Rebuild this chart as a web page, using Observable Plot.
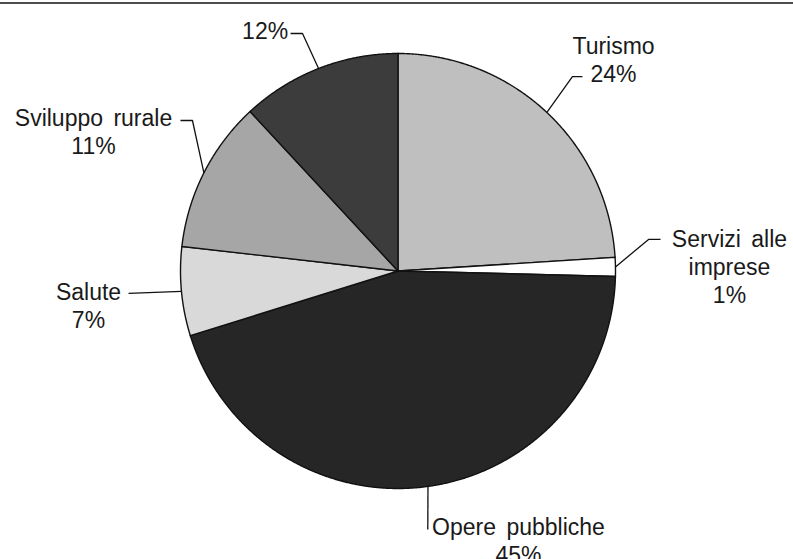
<!DOCTYPE html>
<html>
<head>
<meta charset="utf-8">
<script src="https://cdn.jsdelivr.net/npm/d3@7"></script>
<script src="https://cdn.jsdelivr.net/npm/@observablehq/plot@0.6"></script>
<style>
  html, body { margin: 0; padding: 0; background: #fff; }
  #wrap { position: relative; width: 793px; height: 559px; overflow: hidden; }
  #topline { position: absolute; left: 0; top: 2px; width: 793px; height: 2px; background: #4d4d4d; }
</style>
</head>
<body>
<div id="wrap"><div id="topline"></div></div>
<script>
// ---- data ----
const categories = ["Turismo", "Servizi alle\nimprese", "Opere pubbliche", "Salute", "Sviluppo rurale", ""];
const shares = [24.0, 1.4, 44.8, 6.6, 11.3, 11.9];   // slice sizes, %
const percentLabels = ["24%", "1%", "45%", "7%", "11%", "12%"];
const fills = ["#bfbfbf", "#ffffff", "#262626", "#d9d9d9", "#a6a6a6", "#3c3c3c"];

// ---- label layout (radius units, relative to the pie centre) ----
const labelAt = [[0.991, 1.089], [1.524, 0.200], [0.554, -1.123], [-1.423, -0.042], [-1.400, 0.759], [-0.611, 1.158]];
const leaderElbow = [[0.802, 0.894], [1.152, 0.145], [0.137, -1.189], [-1.239, -0.103], [-0.945, 0.692], [-0.439, 1.092]];
const leaderEnd = [[0.848, 0.894], [1.207, 0.145], [0.137, -1.189], [-1.239, -0.103], [-1.000, 0.692], [-0.494, 1.092]];

// ---- build pie geometry from the data ----
const total = d3.sum(shares);
const slices = [];
const leaders = [];
const labels = [];
let acc = 0;
shares.forEach((v, i) => {
  const a0 = acc / total * 2 * Math.PI;
  acc += v;
  const a1 = acc / total * 2 * Math.PI;
  const key = "s" + i;
  slices.push({key, x: 0, y: 0});
  const n = Math.max(2, Math.ceil((a1 - a0) / (Math.PI / 720)));
  for (let k = 0; k <= n; k++) {
    const t = a0 + (a1 - a0) * k / n;
    slices.push({key, x: Math.sin(t), y: Math.cos(t)});
  }
  slices.push({key, x: 0, y: 0});
  const am = (a0 + a1) / 2;
  leaders.push({key, x: Math.sin(am), y: Math.cos(am)});
  leaders.push({key, x: leaderElbow[i][0], y: leaderElbow[i][1]});
  leaders.push({key, x: leaderEnd[i][0], y: leaderEnd[i][1]});
  labels.push({
    x: labelAt[i][0], y: labelAt[i][1],
    text: categories[i] ? categories[i] + "\n" + percentLabels[i] : percentLabels[i]
  });
});

const chart = Plot.plot({
  width: 793,
  height: 559,
  marginLeft: 180,
  marginRight: 178,
  marginTop: 53,
  marginBottom: 71,
  x: {domain: [-1, 1], axis: null},
  y: {domain: [-1, 1], axis: null},
  color: {type: "ordinal", domain: shares.map((_, i) => "s" + i), range: fills},
  style: {
    fontFamily: "'Liberation Sans', Arial, sans-serif",
    fontSize: "23px",
    color: "#1a1a1a",
    background: "transparent",
    overflow: "visible",
    wordSpacing: "4px"
  },
  marks: [
    Plot.line(slices, {
      x: "x", y: "y", z: "key", fill: "key",
      stroke: "#111", strokeWidth: 1.4, strokeLinejoin: "miter", strokeMiterlimit: 4
    }),
    Plot.line(leaders, {
      x: "x", y: "y", z: "key",
      stroke: "#111", strokeWidth: 1.3, strokeLinejoin: "miter", strokeLinecap: "butt"
    }),
    Plot.text(labels, {
      x: "x", y: "y", text: "text",
      textAnchor: "middle", lineAnchor: "top", lineHeight: 1.217,
      fill: "#1a1a1a", fontSize: 23
    })
  ]
});
document.getElementById("wrap").prepend(chart);
</script>
</body>
</html>
